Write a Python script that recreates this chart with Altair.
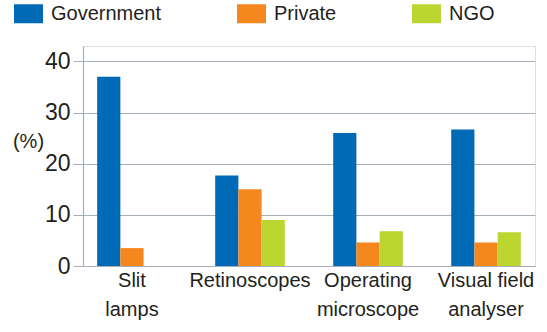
import altair as alt
import pandas as pd

categories = ["Slit lamps", "Retinoscopes", "Operating microscope", "Visual field analyser"]
series = ["Government", "Private", "NGO"]
government = [37.0, 17.7, 26.0, 26.7]
private = [3.5, 15.0, 4.6, 4.6]
ngo = [None, 9.0, 6.8, 6.6]
colors = ["#006ab6", "#f5871f", "#bcd631"]
y_ticks = [0, 10, 20, 30, 40]

rows = []
for i, c in enumerate(categories):
    for s, vals in zip(series, [government, private, ngo]):
        if vals[i] is not None:
            rows.append({"category": c, "sector": s, "value": vals[i]})
df = pd.DataFrame(rows)

FONT = "Liberation Sans"
TXT = "#231f20"
AX = "#a5b0ba"

label_expr = (
    "datum.label == 'Retinoscopes' ? datum.label : "
    "(indexof(datum.label, 'Visual') == 0 ? ['Visual field', 'analyser'] : split(datum.label, ' '))"
)

chart = (
    alt.Chart(df)
    .mark_bar()
    .encode(
        x=alt.X(
            "category:N",
            sort=categories,
            scale=alt.Scale(paddingInner=0.41, paddingOuter=0.12),
            axis=alt.Axis(
                title=None,
                labelAngle=0,
                labelExpr=label_expr,
                labelFontSize=20,
                labelLineHeight=29,
                labelPadding=4,
                labelBaseline="top",
                ticks=False,
                domainColor=AX,
                domainWidth=1.2,
                labelColor=TXT,
                labelFont=FONT,
                grid=False,
            ),
        ),
        xOffset=alt.XOffset("sector:N", sort=series, scale=alt.Scale(domain=series)),
        y=alt.Y(
            "value:Q",
            scale=alt.Scale(domain=[0, 43], nice=False),
            axis=alt.Axis(
                values=y_ticks,
                title="(%)",
                titleAngle=0,
                titleX=-55,
                titleY=95,
                titleAlign="center",
                titleBaseline="middle",
                titleFontSize=20,
                titleFontWeight="normal",
                titleColor=TXT,
                titleFont=FONT,
                labelFontSize=23,
                labelColor=TXT,
                labelFont=FONT,
                labelPadding=3,
                tickSize=10,
                tickColor=AX,
                domainColor=AX,
                domainWidth=1.2,
                grid=True,
                gridColor=AX,
                gridWidth=1.2,
            ),
        ),
        color=alt.Color(
            "sector:N",
            sort=series,
            scale=alt.Scale(domain=series, range=colors),
            legend=alt.Legend(
                title=None,
                orient="none",
                legendX=-69,
                legendY=-47,
                direction="horizontal",
                columns=3,
                columnPadding=75,
                padding=0,
                symbolType="M-1,-0.655H1V0.655H-1Z",
                symbolSize=841,
                symbolStrokeWidth=0,
                symbolOpacity=1,
                labelFontSize=20,
                labelFont=FONT,
                labelColor=TXT,
                labelOffset=8,
            ),
        ),
    )
    .properties(
        width=452,
        height=220,
        padding={"left": 83, "top": 46, "right": 12, "bottom": 66},
        autosize=alt.AutoSizeParams(type="none"),
    )
    .configure_view(stroke=None)
    .configure(font=FONT, background="white")
)

chart.save("out.html", embed_options={"renderer": "svg", "actions": False})
